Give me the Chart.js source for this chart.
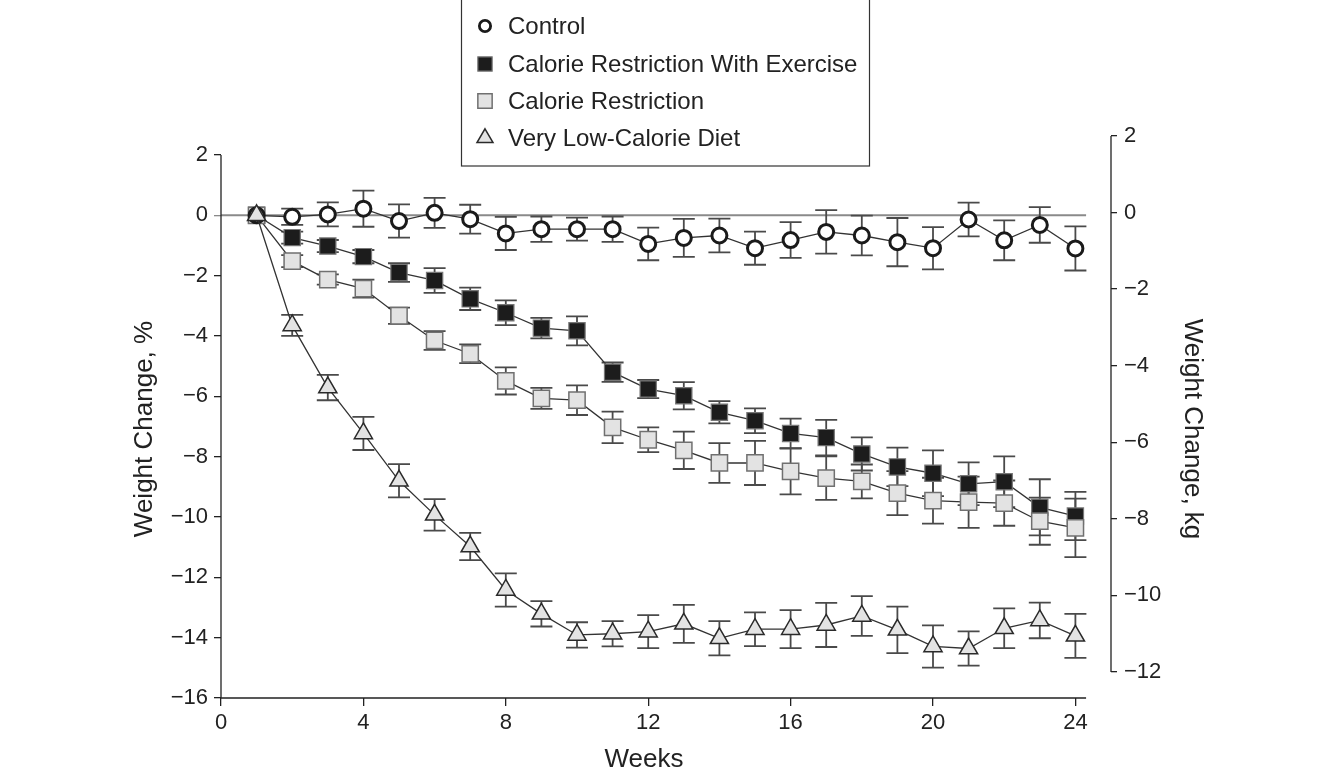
<!DOCTYPE html>
<html>
<head>
<meta charset="utf-8">
<title>Weight change by group</title>
<script src="https://cdn.jsdelivr.net/npm/chart.js@4.4.1/dist/chart.umd.min.js"></script>
<style>
    html, body { margin: 0; padding: 0; background: #fff; }
    #wrap { width: 1342px; height: 775px; }
</style>
</head>
<body>
<div id="wrap"><canvas id="weightChart" width="1342" height="775"></canvas></div>
<script>
// ===============================
// Data
// ===============================
const weeks = [1, 2, 3, 4, 5, 6, 7, 8, 9, 10, 11, 12, 13, 14, 15, 16, 17, 18, 19, 20, 21, 22, 23, 24];

const groupNames = ["Control", "Calorie Restriction With Exercise", "Calorie Restriction", "Very Low-Calorie Diet"];

const controlMean = [0, -0.05, 0.03, 0.22, -0.19, 0.08, -0.13, -0.6, -0.46, -0.46, -0.46, -0.95, -0.75, -0.67, -1.09, -0.82, -0.55, -0.67, -0.89, -1.09, -0.14, -0.83, -0.32, -1.1];
const controlErr  = [0, 0.27, 0.4, 0.6, 0.55, 0.5, 0.48, 0.55, 0.42, 0.38, 0.42, 0.54, 0.63, 0.56, 0.55, 0.59, 0.72, 0.66, 0.8, 0.7, 0.56, 0.66, 0.59, 0.73];

const crExMean = [0, -0.74, -1.02, -1.37, -1.9, -2.16, -2.77, -3.23, -3.74, -3.83, -5.2, -5.76, -5.98, -6.53, -6.81, -7.23, -7.37, -7.91, -8.34, -8.55, -8.9, -8.83, -9.68, -9.97];
const crExErr  = [0, 0.2, 0.2, 0.22, 0.31, 0.41, 0.37, 0.41, 0.34, 0.48, 0.32, 0.3, 0.45, 0.37, 0.41, 0.49, 0.59, 0.55, 0.64, 0.76, 0.71, 0.84, 0.93, 0.8];

const crMean = [0, -1.52, -2.13, -2.43, -3.33, -4.15, -4.59, -5.49, -6.07, -6.13, -7.03, -7.44, -7.79, -8.21, -8.21, -8.49, -8.71, -8.82, -9.21, -9.46, -9.51, -9.54, -10.14, -10.36];
const crErr  = [0, 0.2, 0.17, 0.3, 0.27, 0.31, 0.31, 0.45, 0.35, 0.49, 0.52, 0.41, 0.62, 0.66, 0.73, 0.76, 0.72, 0.56, 0.73, 0.76, 0.85, 0.75, 0.78, 0.97];

const vlcdMean = [0, -3.65, -5.71, -7.23, -8.8, -9.93, -10.98, -12.42, -13.21, -13.91, -13.87, -13.8, -13.54, -14.02, -13.72, -13.72, -13.58, -13.28, -13.74, -14.29, -14.36, -13.69, -13.43, -13.94];
const vlcdErr  = [0, 0.35, 0.42, 0.55, 0.55, 0.52, 0.45, 0.55, 0.42, 0.42, 0.42, 0.55, 0.63, 0.57, 0.56, 0.63, 0.73, 0.66, 0.77, 0.7, 0.57, 0.66, 0.59, 0.73];

const weekTicks = [0, 4, 8, 12, 16, 20, 24];
const percentTicks = [-16, -14, -12, -10, -8, -6, -4, -2, 0, 2];
const kgTicks = [-12, -10, -8, -6, -4, -2, 0, 2];

// ===============================
// Helpers
// ===============================
const FONT = '"Liberation Sans", Arial, Helvetica, sans-serif';
const INK = "#222";

function toPoints(values) {
    return weeks.map((w, i) => ({ x: w, y: values[i] }));
}

function fixedTicks(list) {
    return scale => { scale.ticks = list.map(v => ({ value: v })); };
}

function minusSign(v) {
    return String(v).replace("-", "\u2212");
}

// smaller copy of a dataset's marker, for the legend box
function drawMarker(ctx, ds, x, y) {
    const r = ds.pointRadius * 0.88;
    ctx.save();
    ctx.fillStyle = ds.pointBackgroundColor;
    ctx.strokeStyle = ds.pointBorderColor;
    ctx.lineWidth = Math.min(ds.pointBorderWidth, 2.8);
    ctx.beginPath();
    if (ds.pointStyle === "circle") {
        ctx.arc(x, y, r * 0.85, 0, Math.PI * 2);
    } else if (ds.pointStyle === "rect") {
        const s = Math.SQRT1_2 * r;
        ctx.rect(x - s, y - s, 2 * s, 2 * s);
    } else {
        ctx.moveTo(x, y - r);
        ctx.lineTo(x + Math.sin(Math.PI * 2 / 3) * r, y + r / 2);
        ctx.lineTo(x - Math.sin(Math.PI * 2 / 3) * r, y + r / 2);
        ctx.closePath();
    }
    ctx.fill();
    ctx.stroke();
    ctx.restore();
}

// ===============================
// Axis lines, zero line, error bars, legend, titles
// ===============================
const decorations = {
    id: "decorations",
    beforeDatasetsDraw(chart) {
        const ctx = chart.ctx;
        const x = chart.scales.x;
        const y = chart.scales.y;
        const y2 = chart.scales.y2;

        ctx.save();

        // zero reference line
        ctx.strokeStyle = "#8a8a8a";
        ctx.lineWidth = 2;
        ctx.beginPath();
        ctx.moveTo(x.getPixelForValue(0), y.getPixelForValue(0));
        ctx.lineTo(x.getPixelForValue(24.3), y.getPixelForValue(0));
        ctx.stroke();

        // axis lines
        ctx.strokeStyle = INK;
        ctx.lineWidth = 1.3;
        ctx.beginPath();
        ctx.moveTo(x.getPixelForValue(0), y.getPixelForValue(2));
        ctx.lineTo(x.getPixelForValue(0), y.getPixelForValue(-16));
        ctx.lineTo(x.getPixelForValue(24.3), y.getPixelForValue(-16));
        ctx.moveTo(chart.chartArea.right, y2.getPixelForValue(2));
        ctx.lineTo(chart.chartArea.right, y2.getPixelForValue(-12));
        ctx.stroke();

        // error bars
        chart.data.datasets.forEach(ds => {
            ctx.strokeStyle = "#4a4a4a";
            ctx.lineWidth = 1.8;
            ds.data.forEach((p, i) => {
                const e = ds.errors[i];
                if (!e) return;
                const px = x.getPixelForValue(p.x);
                const top = y.getPixelForValue(p.y + e);
                const bot = y.getPixelForValue(p.y - e);
                ctx.beginPath();
                ctx.moveTo(px, top);
                ctx.lineTo(px, bot);
                ctx.moveTo(px - 11, top);
                ctx.lineTo(px + 11, top);
                ctx.moveTo(px - 11, bot);
                ctx.lineTo(px + 11, bot);
                ctx.stroke();
            });
        });

        ctx.restore();
    },
    afterDraw(chart) {
        const ctx = chart.ctx;
        ctx.save();

        // legend box
        ctx.fillStyle = "#fff";
        ctx.fillRect(461, -1, 408, 167);
        ctx.strokeStyle = "#333";
        ctx.lineWidth = 1.2;
        ctx.strokeRect(461.5, -1, 408, 167);

        const rows = [26, 64, 101, 138];
        ctx.font = "24px " + FONT;
        ctx.textBaseline = "middle";
        ctx.textAlign = "left";
        chart.data.datasets.forEach((ds, i) => {
            drawMarker(ctx, ds, 485, rows[i]);
            ctx.fillStyle = INK;
            ctx.fillText(ds.label, 508, rows[i] + 1);
        });

        // axis titles
        ctx.font = "26px " + FONT;
        ctx.fillStyle = INK;
        ctx.textAlign = "center";
        ctx.textBaseline = "middle";

        ctx.fillText("Weeks", 644, 760);

        ctx.save();
        ctx.translate(145, 429);
        ctx.rotate(-Math.PI / 2);
        ctx.fillText("Weight Change, %", 0, 0);
        ctx.restore();

        ctx.save();
        ctx.translate(1192, 429);
        ctx.rotate(Math.PI / 2);
        ctx.fillText("Weight Change, kg", 0, 0);
        ctx.restore();

        ctx.restore();
    }
};

// ===============================
// Chart
// ===============================
const tickFont = { family: FONT, size: 22 };

new Chart(document.getElementById("weightChart"), {
    type: "line",
    data: {
        datasets: [
            {
                label: groupNames[0],
                data: toPoints(controlMean),
                errors: controlErr,
                order: 1,
                pointStyle: "circle",
                pointRadius: 7.5,
                pointBorderWidth: 3,
                pointBorderColor: "#1a1a1a",
                pointBackgroundColor: "#fff"
            },
            {
                label: groupNames[1],
                data: toPoints(crExMean),
                errors: crExErr,
                order: 3,
                pointStyle: "rect",
                pointRadius: 11.5,
                pointBorderWidth: 1.2,
                pointBorderColor: "#777",
                pointBackgroundColor: "#1c1c1c"
            },
            {
                label: groupNames[2],
                data: toPoints(crMean),
                errors: crErr,
                order: 2,
                pointStyle: "rect",
                pointRadius: 11.5,
                pointBorderWidth: 1.5,
                pointBorderColor: "#707070",
                pointBackgroundColor: "#e3e3e3"
            },
            {
                label: groupNames[3],
                data: toPoints(vlcdMean),
                errors: vlcdErr,
                order: 0,
                pointStyle: "triangle",
                pointRadius: 10.5,
                pointBorderWidth: 1.5,
                pointBorderColor: "#2a2a2a",
                pointBackgroundColor: "#e3e3e3"
            }
        ]
    },
    options: {
        responsive: false,
        animation: false,
        layout: { padding: { top: 136, left: 0, right: 0, bottom: 0 } },
        elements: {
            line: { borderColor: "#333", borderWidth: 1.3, tension: 0 }
        },
        plugins: {
            legend: { display: false },
            tooltip: { enabled: false }
        },
        scales: {
            x: {
                type: "linear",
                min: 0,
                max: 25,
                afterBuildTicks: fixedTicks(weekTicks),
                afterFit: s => { s.height = 77; },
                border: { display: false },
                grid: { drawOnChartArea: false, tickLength: 8, color: INK, lineWidth: 1.3 },
                ticks: { font: tickFont, color: INK, padding: 4, maxRotation: 0, autoSkip: false }
            },
            y: {
                position: "left",
                min: -16,
                max: 2.628,
                afterBuildTicks: fixedTicks(percentTicks),
                afterFit: s => { s.width = 221; },
                border: { display: false },
                grid: {
                    drawOnChartArea: false,
                    tickLength: 7,
                    lineWidth: 1.3,
                    color: c => (c.tick && c.tick.value === 0 ? "#8a8a8a" : INK)
                },
                ticks: { font: tickFont, color: INK, padding: 6, callback: minusSign }
            },
            y2: {
                position: "right",
                min: -12.68,
                max: 2,
                afterBuildTicks: fixedTicks(kgTicks),
                afterFit: s => { s.width = 231; },
                border: { display: false },
                grid: { drawOnChartArea: false, tickLength: 6, lineWidth: 1.3, color: INK },
                ticks: { font: tickFont, color: INK, padding: 7, callback: minusSign }
            }
        }
    },
    plugins: [decorations]
});
</script>
</body>
</html>
